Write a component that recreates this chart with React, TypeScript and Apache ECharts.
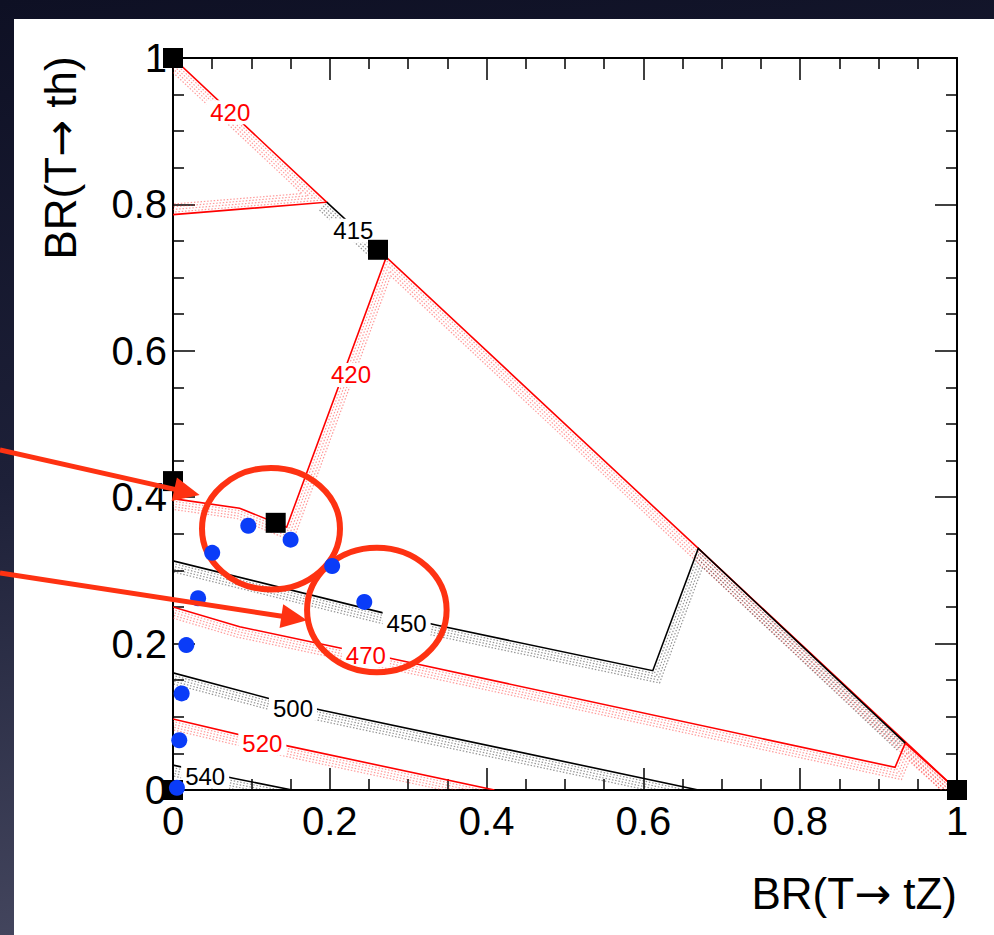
import React, { useEffect, useRef } from "react";
import * as echarts from "echarts";

const FONT = '"Liberation Sans", Arial, Helvetica, sans-serif';
const ARROW_FONT = '"DejaVu Sans", sans-serif';

// ---- axes ----
const xTickValues = [0, 0.2, 0.4, 0.6, 0.8, 1];
const yTickValues = [0, 0.2, 0.4, 0.6, 0.8, 1];
const xAxisTitle = "BR(T{a|\u2192} tZ)";
const yAxisTitle = "BR(T{a|\u2192} th)";

// ---- contour lines (BR(T->tZ), BR(T->th)) ----
const contour420Upper = [[0, 1], [0.196, 0.803], [0, 0.786]];
const contour420Inner = [[0, 0.398], [0.085, 0.385], [0.145, 0.359], [0.272, 0.728], [0.67, 0.33], [1, 0]];
const contour470 = [[0, 0.25], [0.085, 0.223], [0.213, 0.194], [0.277, 0.18], [0.921, 0.031], [0.934, 0.064], [1, 0]];
const contour520 = [[0, 0.097], [0.134, 0.063], [0.41, 0]];
const contour415 = [[0.196, 0.803], [0.262, 0.738]];
const contour450 = [[0, 0.313], [0.268, 0.242], [0.337, 0.225], [0.612, 0.163], [0.67, 0.33], [0.934, 0.064]];
const contour500 = [[0, 0.16], [0.126, 0.124], [0.19, 0.109], [0.67, 0]];
const contour540 = [[0, 0.034], [0.077, 0.016], [0.152, 0]];

const contourList = [contour420Upper, contour420Inner, contour470, contour520, contour415, contour450, contour500, contour540];
const contourRed = [true, true, true, true, false, false, false, false];

// ---- contour labels ----
const labelText = ["420", "415", "420", "450", "470", "500", "520", "540"];
const labelX = [0.073, 0.23, 0.227, 0.298, 0.246, 0.153, 0.114, 0.041];
const labelY = [0.926, 0.764, 0.567, 0.228, 0.184, 0.112, 0.064, 0.018];
const labelRed = [true, false, true, false, true, false, true, false];

// ---- markers ----
const squareX = [0, 0.2615, 0, 0.131, 1, 0];
const squareY = [1, 0.738, 0.422, 0.365, 0, 0];
const dotX = [0.096, 0.05, 0.15, 0.203, 0.244, 0.032, 0.017, 0.011, 0.008, 0.005];
const dotY = [0.361, 0.324, 0.342, 0.306, 0.257, 0.262, 0.198, 0.132, 0.068, 0.003];

// ---- annotations ----
const ellipseCX = [0.125, 0.26];
const ellipseCY = [0.357, 0.246];
const ellipseRX = [0.088, 0.089];
const ellipseRY = [0.083, 0.085];
const arrowFrom = [[-0.2207, 0.4645], [-0.2207, 0.2964]];
const arrowTo = [[0.034, 0.403], [0.171, 0.232]];

const ANNOT = "#fe3212";
const hatchOffsets = [2.5, 5.2, 7.9, 10.6];

function offsetPolyline(pts: number[][], d: number): number[][] {
  const n = pts.length;
  const normals: number[][] = [];
  for (let i = 0; i < n - 1; i++) {
    const dx = pts[i + 1][0] - pts[i][0];
    const dy = pts[i + 1][1] - pts[i][1];
    const L = Math.hypot(dx, dy) || 1;
    normals.push([-dy / L, dx / L]);
  }
  const out: number[][] = [];
  for (let i = 0; i < n; i++) {
    let m: number[];
    if (i === 0) m = normals[0];
    else if (i === n - 1) m = normals[n - 2];
    else {
      const a = normals[i - 1];
      const b = normals[i];
      let mx = a[0] + b[0];
      let my = a[1] + b[1];
      const L = Math.hypot(mx, my);
      if (L < 1e-6) m = a;
      else {
        mx /= L;
        my /= L;
        const dot = Math.max(mx * a[0] + my * a[1], 0.3);
        m = [mx / dot, my / dot];
      }
    }
    out.push([pts[i][0] + m[0] * d, pts[i][1] + m[1] * d]);
  }
  return out;
}

export default function App() {
  const ref = useRef<HTMLDivElement>(null);

  useEffect(() => {
    if (!ref.current) return;
    const chart = echarts.init(ref.current, undefined, { renderer: "svg" });

    const axisCommon = {
      type: "value",
      min: xTickValues[0],
      max: xTickValues[xTickValues.length - 1],
      interval: xTickValues[1] - xTickValues[0],
      axisLine: { show: true, onZero: false, lineStyle: { color: "#000", width: 2 } },
      axisTick: { show: true, inside: true, length: 22, lineStyle: { color: "#000", width: 1.5 } },
      minorTick: { show: true, splitNumber: 4, length: 11, lineStyle: { color: "#000", width: 1.5 } },
      splitLine: { show: false },
      minorSplitLine: { show: false },
    };

    const titleRich = { a: { fontFamily: ARROW_FONT, fontSize: 44, fill: "#000", color: "#000" } };

    const option: any = {
      animation: false,
      grid: { left: 173, top: 58, width: 784, height: 732, containLabel: false, outerBoundsMode: "none" },
      xAxis: [
        {
          ...axisCommon,
          position: "bottom",
          axisLabel: { show: true, margin: 11, color: "#000", fontSize: 40, fontFamily: FONT },
        },
        { ...axisCommon, position: "top", axisLabel: { show: false } },
      ],
      yAxis: [
        {
          ...axisCommon,
          min: yTickValues[0],
          max: yTickValues[yTickValues.length - 1],
          interval: yTickValues[1] - yTickValues[0],
          position: "left",
          axisLabel: { show: true, margin: 6, color: "#000", fontSize: 40, fontFamily: FONT },
        },
        {
          ...axisCommon,
          min: yTickValues[0],
          max: yTickValues[yTickValues.length - 1],
          interval: yTickValues[1] - yTickValues[0],
          position: "right",
          axisLabel: { show: false },
        },
      ],
      graphic: [
        {
          type: "text",
          x: 60,
          y: 158,
          rotation: Math.PI / 2,
          z: 100,
          style: {
            text: yAxisTitle,
            fill: "#000",
            fontSize: 44,
            fontFamily: FONT,
            align: "center",
            verticalAlign: "middle",
            rich: titleRich,
          },
        },
        {
          type: "text",
          x: 957,
          y: 893,
          z: 100,
          style: {
            text: xAxisTitle,
            fill: "#000",
            fontSize: 44,
            fontFamily: FONT,
            align: "right",
            verticalAlign: "middle",
            rich: titleRich,
          },
        },
      ],
      series: [
        {
          type: "custom",
          name: "contours",
          xAxisIndex: 0,
          yAxisIndex: 0,
          clip: true,
          z: 2,
          silent: true,
          data: contourList.map(() => [0.5, 0.5]),
          renderItem: (params: any, api: any) => {
            const i = params.dataIndex;
            const pts = contourList[i].map((p) => api.coord(p));
            const red = contourRed[i];
            const color = red ? "#ff0000" : "#000000";
            const hatch = red ? "rgba(255,30,30,0.45)" : "rgba(0,0,0,0.42)";
            const children: any[] = hatchOffsets.map((d) => ({
              type: "polyline",
              shape: { points: offsetPolyline(pts, d) },
              style: { stroke: hatch, fill: "none", lineWidth: 1.2, lineDash: [1.5, 1.8] },
            }));
            children.push({
              type: "polyline",
              shape: { points: pts },
              style: { stroke: color, fill: "none", lineWidth: 1.6 },
            });
            return { type: "group", children };
          },
        },
        {
          type: "custom",
          name: "contourLabels",
          xAxisIndex: 0,
          yAxisIndex: 0,
          clip: false,
          z: 3,
          silent: true,
          data: labelText.map((_, i) => [labelX[i], labelY[i]]),
          renderItem: (params: any, api: any) => {
            const i = params.dataIndex;
            const p = api.coord([labelX[i], labelY[i]]);
            return {
              type: "text",
              x: p[0],
              y: p[1],
              style: {
                text: labelText[i],
                fill: labelRed[i] ? "#ff0000" : "#000000",
                fontSize: 24,
                fontFamily: FONT,
                align: "center",
                verticalAlign: "middle",
                backgroundColor: "#ffffff",
                padding: [0, 4],
              },
            };
          },
        },
        {
          type: "custom",
          name: "circles",
          xAxisIndex: 0,
          yAxisIndex: 0,
          clip: false,
          z: 4,
          silent: true,
          data: ellipseCX.map((_, i) => [ellipseCX[i], ellipseCY[i]]),
          renderItem: (params: any, api: any) => {
            const i = params.dataIndex;
            const c = api.coord([ellipseCX[i], ellipseCY[i]]);
            const s = api.size([ellipseRX[i], ellipseRY[i]]);
            return {
              type: "ellipse",
              shape: { cx: c[0], cy: c[1], rx: s[0], ry: s[1] },
              style: { stroke: ANNOT, fill: "none", lineWidth: 6 },
            };
          },
        },
        {
          type: "scatter",
          name: "benchmarks",
          xAxisIndex: 0,
          yAxisIndex: 0,
          clip: false,
          z: 5,
          symbol: "rect",
          symbolSize: 20,
          itemStyle: { color: "#000000", opacity: 1 },
          data: squareX.map((x, i) => [x, squareY[i]]),
        },
        {
          type: "scatter",
          name: "points",
          xAxisIndex: 0,
          yAxisIndex: 0,
          clip: false,
          z: 6,
          symbol: "circle",
          symbolSize: 16,
          itemStyle: { color: "#0a3cf8", opacity: 1 },
          data: dotX.map((x, i) => [x, dotY[i]]),
        },
        {
          type: "custom",
          name: "arrows",
          xAxisIndex: 0,
          yAxisIndex: 0,
          clip: false,
          z: 7,
          silent: true,
          data: arrowTo.map((p) => p),
          renderItem: (params: any, api: any) => {
            const i = params.dataIndex;
            const a = api.coord(arrowFrom[i]);
            const b = api.coord(arrowTo[i]);
            const dx = b[0] - a[0];
            const dy = b[1] - a[1];
            const L = Math.hypot(dx, dy) || 1;
            const ux = dx / L;
            const uy = dy / L;
            const headLen = 26;
            const headHalf = 12;
            const bx = b[0] - ux * headLen;
            const by = b[1] - uy * headLen;
            return {
              type: "group",
              children: [
                {
                  type: "line",
                  shape: { x1: a[0], y1: a[1], x2: bx + ux * 4, y2: by + uy * 4 },
                  style: { stroke: ANNOT, lineWidth: 5, lineCap: "butt" },
                },
                {
                  type: "polygon",
                  shape: {
                    points: [
                      [b[0], b[1]],
                      [bx - uy * headHalf, by + ux * headHalf],
                      [bx + uy * headHalf, by - ux * headHalf],
                    ],
                  },
                  style: { fill: ANNOT, stroke: "none" },
                },
              ],
            };
          },
        },
      ],
    };

    chart.setOption(option);
    return () => {
      chart.dispose();
    };
  }, []);

  return (
    <div
      style={{
        position: "fixed",
        left: 0,
        top: 0,
        width: 994,
        height: 935,
        overflow: "hidden",
        background: "linear-gradient(172deg, #0e1024 0%, #1d2038 45%, #4e5068 100%)",
      }}
    >
      <div style={{ position: "absolute", left: 14, top: 19, right: 0, bottom: 0, background: "#ffffff" }} />
      <div ref={ref} style={{ position: "absolute", left: 0, top: 0, width: 994, height: 935 }} />
    </div>
  );
}
